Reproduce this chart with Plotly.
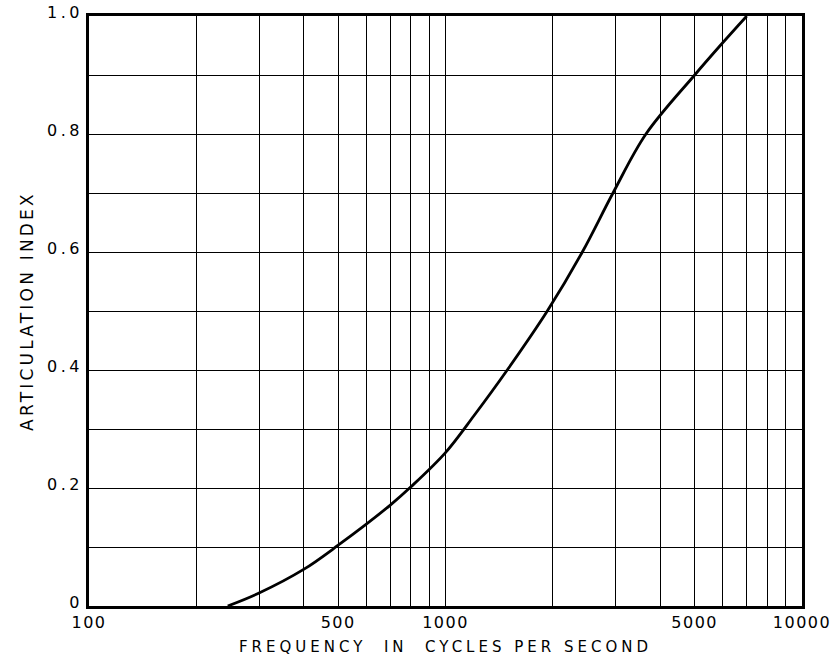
import plotly.graph_objects as go

# Articulation index vs. cutoff frequency
freq = [245, 300, 400, 500, 700, 800, 1000, 1200, 1490, 1930,
        2420, 2950, 3650, 5000, 6000, 7000]
articulation = [0.0, 0.022, 0.062, 0.103, 0.171, 0.202, 0.26, 0.322, 0.40, 0.50,
                0.60, 0.70, 0.80, 0.90, 0.955, 1.0]

x_tick_vals = [100, 500, 1000, 5000, 10000]
x_tick_text = ["100", "500", "1000", "5000", "10000"]
x_grid_vals = [100, 200, 300, 400, 500, 600, 700, 800, 900,
               1000, 2000, 3000, 4000, 5000, 6000, 7000, 8000, 9000, 10000]

y_tick_vals = [0, 0.2, 0.4, 0.6, 0.8, 1.0]
y_tick_text = ["0", "0.2", "0.4", "0.6", "0.8", "1.0"]
y_grid_vals = [0.1, 0.3, 0.5, 0.7, 0.9]

FONT = "DejaVu Sans"

fig = go.Figure()
fig.add_trace(go.Scatter(
    x=freq, y=articulation, mode="lines",
    line=dict(color="black", width=2.8, shape="spline", smoothing=1.0),
    showlegend=False, hoverinfo="skip",
))

fig.update_layout(
    width=838, height=658,
    margin=dict(l=89, r=36, t=16, b=52),
    paper_bgcolor="white", plot_bgcolor="white",
    font=dict(family=FONT, color="black", size=16),
    xaxis=dict(
        type="log", range=[2, 4],
        tickmode="array", tickvals=x_tick_vals, ticktext=x_tick_text,
        showgrid=True, gridcolor="black", gridwidth=1.2,
        minor=dict(tickmode="array", tickvals=x_grid_vals, showgrid=True,
                   gridcolor="black", gridwidth=1.2, ticks=""),
        showline=True, linecolor="black", linewidth=2.5, mirror=True,
        ticks="", ticklabelstandoff=0,
        tickfont=dict(family=FONT, size=16, color="black"),
        title=dict(text="FREQUENCY\u00a0 IN\u00a0 CYCLES PER SECOND",
                   font=dict(family=FONT, size=15, color="black"), standoff=11),
        zeroline=False, automargin=False,
    ),
    yaxis=dict(
        range=[0, 1],
        tickmode="array", tickvals=y_tick_vals, ticktext=y_tick_text,
        showgrid=True, gridcolor="black", gridwidth=1.2,
        minor=dict(tickmode="array", tickvals=y_grid_vals, showgrid=True,
                   gridcolor="black", gridwidth=1.2, ticks=""),
        showline=True, linecolor="black", linewidth=2.5, mirror=True,
        ticks="", ticklabelstandoff=0, ticklabelshift=-4,
        tickfont=dict(family=FONT, size=16, color="black"),
        title=dict(text="ARTICULATION INDEX",
                   font=dict(family=FONT, size=17, color="black"), standoff=20),
        zeroline=False, automargin=False,
    ),
)

# widen the lettering of the axis titles and tick labels
spacing_js = """
var gd = document.getElementById('{plot_id}');
function widen() {
  gd.querySelectorAll('.xtitle').forEach(function (t) { t.style.letterSpacing = '4px'; });
  gd.querySelectorAll('.ytitle').forEach(function (t) { t.style.letterSpacing = '3.2px'; });
  gd.querySelectorAll('.ytick text').forEach(function (t) { t.style.letterSpacing = '3.5px'; });
  gd.querySelectorAll('.xtick text').forEach(function (t) { t.style.letterSpacing = '1.5px'; });
}
widen();
gd.on('plotly_afterplot', widen);
"""

fig.write_html("out.html", post_script=spacing_js)
